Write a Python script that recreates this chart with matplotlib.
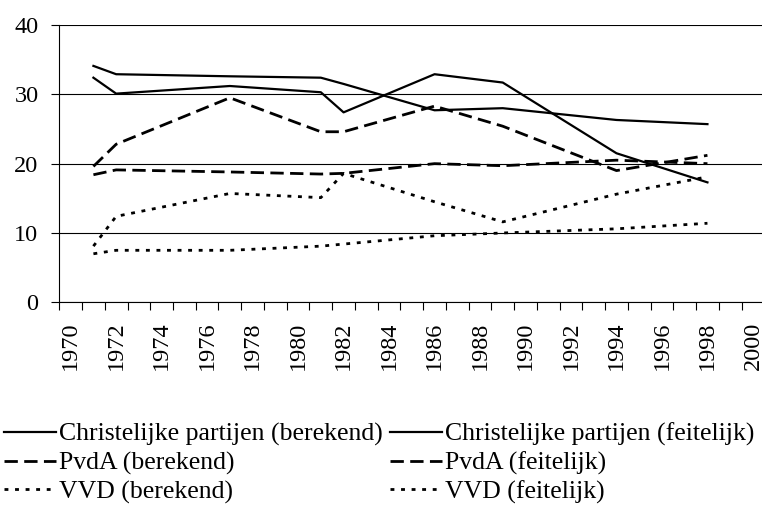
import matplotlib.pyplot as plt
import numpy as np

plt.rcParams['font.family'] = ['Liberation Serif', 'DejaVu Serif']

# verkiezingsjaren
jaren = [1971, 1972, 1977, 1981, 1982, 1986, 1989, 1994, 1998]

# percentages
cp_berekend = [34.1, 32.9, 32.6, 32.4, 31.5, 27.7, 28.0, 26.3, 25.7]
cp_feitelijk = [32.4, 30.1, 31.2, 30.3, 27.4, 32.9, 31.7, 21.5, 17.3]
pvda_berekend = [18.4, 19.1, 18.8, 18.5, 18.6, 20.0, 19.7, 20.5, 20.0]
pvda_feitelijk = [19.6, 22.8, 29.5, 24.6, 24.6, 28.3, 25.4, 19.0, 21.2]
vvd_berekend = [7.0, 7.5, 7.5, 8.1, 8.4, 9.6, 10.0, 10.6, 11.4]
vvd_feitelijk = [8.1, 12.4, 15.7, 15.1, 18.6, 14.5, 11.6, 15.6, 18.1]

jaar_labels = list(range(1970, 2001, 2))
y_ticks = [0, 10, 20, 30, 40]

fig = plt.figure(figsize=(7.62, 5.08), dpi=100)
ax = fig.add_axes([59.3 / 762, 205.7 / 508, 705.0 / 762, 277.3 / 508])

lw = 2.0
solid = '-'
dashed = (0, (4.8, 2.3))
dotted = (0, (1.4, 2.4))

l1, = ax.plot(jaren, cp_berekend, color='black', lw=1.6, ls=solid)
l2, = ax.plot(jaren, cp_feitelijk, color='black', lw=1.6, ls=solid)
l3, = ax.plot(jaren, pvda_berekend, color='black', lw=lw, ls=dashed)
l4, = ax.plot(jaren, pvda_feitelijk, color='black', lw=lw, ls=dashed)
l5, = ax.plot(jaren, vvd_berekend, color='black', lw=lw, ls=dotted)
l6, = ax.plot(jaren, vvd_feitelijk, color='black', lw=lw, ls=dotted)

ax.set_xlim(1969.5, 2000.5)
ax.set_ylim(0, 40)

# tickmarks tussen de categorieen, labels in het midden
ax.set_xticks(np.arange(1969.5, 2000.6, 1))
ax.set_xticklabels([])
ax.set_xticks(jaar_labels, minor=True)
ax.set_xticklabels([str(j) for j in jaar_labels], minor=True, rotation=90)
ax.tick_params(axis='x', which='major', length=5.5, width=0.8, direction='out')
ax.tick_params(axis='x', which='minor', length=0, pad=14, labelsize=17.5)

ax.set_yticks(y_ticks)
ax.tick_params(axis='y', length=6, width=0.8, direction='out', pad=9, labelsize=17.5)

ax.yaxis.grid(True, color='black', lw=0.8)
ax.set_axisbelow(True)
for s in ['top', 'right']:
    ax.spines[s].set_visible(False)
for s in ['left', 'bottom']:
    ax.spines[s].set_linewidth(0.8)

handles = [l1, l3, l5, l2, l4, l6]
labels = ['Christelijke partijen (berekend)', 'PvdA (berekend)', 'VVD (berekend)',
          'Christelijke partijen (feitelijk)', 'PvdA (feitelijk)', 'VVD (feitelijk)']
fig.legend(handles, labels, ncol=2, loc='upper left',
           bbox_to_anchor=(4 / 762, 1 - 423 / 508), frameon=False,
           fontsize=18.5, handlelength=2.02, handletextpad=0.12,
           columnspacing=0.3, labelspacing=0.2, borderpad=0, borderaxespad=0)

fig.savefig('out.png', dpi=100)
